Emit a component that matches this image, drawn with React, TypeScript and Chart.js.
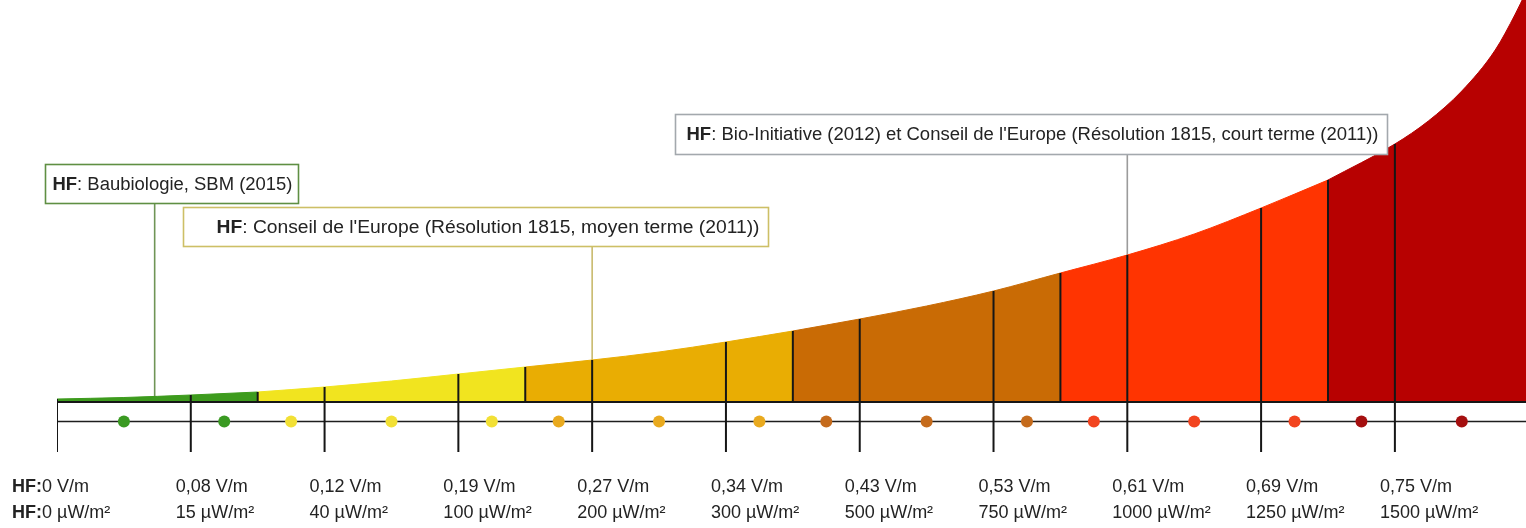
import React, { useEffect, useRef } from "react";
import { Chart, registerables } from "chart.js";

Chart.register(...registerables);

// ---- data ----
const curveX = [0, 0.5, 1, 1.5, 2, 2.5, 3, 3.5, 4, 4.5, 5, 5.5, 6, 6.5, 7, 7.5, 8, 8.5, 9, 9.5, 10, 10.25, 10.5, 10.75, 10.9, 10.98];
const curveLevel = [3, 4.5, 7, 10, 15, 21, 28, 35, 42, 50, 60, 71, 83, 96, 111, 129, 147, 168, 194, 222, 258, 281, 311, 352, 388, 410];

const bandStarts = [0, 1.5, 3.5, 5.5, 7.5, 9.5];
const bandEnds = [1.5, 3.5, 5.5, 7.5, 9.5, 10.98];

const tickPositions = [0, 1, 2, 3, 4, 5, 6, 7, 8, 9, 10];
const fieldLabels = ["0 V/m", "0,08 V/m", "0,12 V/m", "0,19 V/m", "0,27 V/m", "0,34 V/m", "0,43 V/m", "0,53 V/m", "0,61 V/m", "0,69 V/m", "0,75 V/m"];
const powerLabels = ["0 µW/m²", "15 µW/m²", "40 µW/m²", "100 µW/m²", "200 µW/m²", "300 µW/m²", "500 µW/m²", "750 µW/m²", "1000 µW/m²", "1250 µW/m²", "1500 µW/m²"];

const dividerPositions = [1.5, 3.5, 5.5, 7.5, 9.5];
const dotPositions = [0.5, 1.25, 1.75, 2.5, 3.25, 3.75, 4.5, 5.25, 5.75, 6.5, 7.25, 7.75, 8.5, 9.25, 9.75, 10.5];

const annotationX = [0.73, 4, 8];
const annotationTexts = [
  "Baubiologie, SBM (2015)",
  "Conseil de l'Europe (Résolution 1815, moyen terme (2011))",
  "Bio-Initiative (2012) et Conseil de l'Europe (Résolution 1815, court terme (2011))",
];

// ---- styles / layout ----
const bandColors = ["#3d9b1d", "#f1e41f", "#e9ad03", "#c96b05", "#ff3401", "#b70101"];
const dotColors = ["#3a9a22", "#f2e035", "#e9aa1f", "#c56b1c", "#f2441f", "#a50f0f"];
const AXIS_BOTTOM = -50;
const MID_LINE = -19.5;
const Y_MAX = 402;
const X_MAX = 10.98;

const annotationBoxes = [
  { dx: -110, top: 238, width: 253, height: 39, textDx: 7, textWidth: 240, border: "#5f8f43", line: "#6f9556" },
  { dx: -409, top: 195, width: 585, height: 39, textDx: 33, textWidth: 543, border: "#cdbf66", line: "#c9bb6e" },
  { dx: -452.5, top: 288, width: 712, height: 40, textDx: 11, textWidth: 692, border: "#a3a8ad", line: "#9b9b9b" },
];

const FONT_FAMILY = "'Liberation Sans', Arial, sans-serif";
const TEXT_COLOR = "#232323";

const levelAt = (x: number) => curveLevel[curveX.indexOf(x)];
const bandIndex = (x: number) => {
  for (let i = 0; i < bandStarts.length; i++) if (x >= bandStarts[i] && x < bandEnds[i]) return i;
  return bandStarts.length - 1;
};

function drawMixedFit(ctx: CanvasRenderingContext2D, bold: string, rest: string, x: number, y: number, size: number, targetWidth: number) {
  ctx.font = `bold ${size}px ${FONT_FAMILY}`;
  const wb = ctx.measureText(bold).width;
  ctx.font = `${size}px ${FONT_FAMILY}`;
  const wr = ctx.measureText(rest).width;
  const sx = targetWidth / (wb + wr);
  ctx.save();
  ctx.translate(x, y);
  ctx.scale(sx, 1);
  ctx.font = `bold ${size}px ${FONT_FAMILY}`;
  ctx.fillText(bold, 0, 0);
  ctx.font = `${size}px ${FONT_FAMILY}`;
  ctx.fillText(rest, wb, 0);
  ctx.restore();
}

const overlayPlugin = {
  id: "overlay",
  afterDatasetsDraw(chart: any) {
    const { ctx, chartArea } = chart;
    const xs = chart.scales.x;
    const ys = chart.scales.y;
    ctx.save();
    ctx.textBaseline = "middle";
    ctx.textAlign = "left";
    // annotation boxes
    annotationX.forEach((ax, i) => {
      const st = annotationBoxes[i];
      const lx = xs.getPixelForValue(ax);
      const left = Math.round(lx + st.dx) + 0.5;
      const top = Math.round(ys.getPixelForValue(st.top)) + 0.5;
      ctx.fillStyle = "#ffffff";
      ctx.fillRect(left, top, st.width, st.height);
      ctx.strokeStyle = st.border;
      ctx.lineWidth = 1.6;
      ctx.strokeRect(left, top, st.width, st.height);
      ctx.fillStyle = TEXT_COLOR;
      drawMixedFit(ctx, "HF", ": " + annotationTexts[i], left + st.textDx, top + st.height / 2 + 1, 18, st.textWidth);
    });
    // tick labels
    const row1 = chartArea.bottom + 35;
    const row2 = chartArea.bottom + 61;
    ctx.fillStyle = TEXT_COLOR;
    tickPositions.forEach((t, i) => {
      const x = xs.getPixelForValue(t) - 15;
      ctx.font = `18px ${FONT_FAMILY}`;
      if (i === 0) {
        ctx.font = `bold 18px ${FONT_FAMILY}`;
        const w = ctx.measureText("HF:").width;
        ctx.fillText("HF:", x - w, row1);
        ctx.fillText("HF:", x - w, row2);
        ctx.font = `18px ${FONT_FAMILY}`;
      }
      ctx.fillText(fieldLabels[i], x, row1);
      ctx.fillText(powerLabels[i], x, row2);
    });
    ctx.restore();
  },
};

export default function App() {
  const ref = useRef<HTMLCanvasElement>(null);

  useEffect(() => {
    document.body.style.margin = "0";
    const canvas = ref.current;
    if (!canvas) return;

    const areaDatasets = bandStarts.map((s, i) => ({
      type: "line" as const,
      data: curveX
        .map((x, k) => ({ x, y: curveLevel[k] }))
        .filter((p) => p.x >= s - 1e-9 && p.x <= bandEnds[i] + 1e-9),
      backgroundColor: bandColors[i],
      borderColor: bandColors[i],
      borderWidth: 1,
      fill: "origin",
      pointRadius: 0,
      cubicInterpolationMode: "monotone" as const,
      order: 5,
    }));

    const dividerData: any[] = [];
    const allDividers = [...tickPositions.map((x) => ({ x, from: AXIS_BOTTOM })), ...dividerPositions.map((x) => ({ x, from: 0 }))].sort(
      (a, b) => a.x - b.x
    );
    allDividers.forEach((d) => {
      dividerData.push({ x: d.x, y: d.from }, { x: d.x, y: levelAt(d.x) }, { x: d.x, y: null });
    });

    const annotationLines = annotationX.map((ax, i) => ({
      type: "line" as const,
      data: [
        { x: ax, y: annotationBoxes[i].top - annotationBoxes[i].height },
        { x: ax, y: 0 },
      ],
      borderColor: annotationBoxes[i].line,
      borderWidth: 1.6,
      pointRadius: 0,
      fill: false,
      order: 10,
    }));

    const chart = new Chart(canvas, {
      type: "line",
      data: {
        datasets: [
          {
            type: "line",
            data: dotPositions.map((x) => ({ x, y: MID_LINE })),
            showLine: false,
            pointRadius: 6,
            pointBorderWidth: 0,
            pointBackgroundColor: dotPositions.map((x) => dotColors[bandIndex(x)]),
            order: 0,
          },
          {
            type: "line",
            data: dividerData,
            borderColor: "#161616",
            borderWidth: 2,
            pointRadius: 0,
            spanGaps: false,
            fill: false,
            order: 1,
          },
          {
            type: "line",
            data: [
              { x: 0, y: 0 },
              { x: X_MAX, y: 0 },
            ],
            borderColor: "#161616",
            borderWidth: 2,
            pointRadius: 0,
            fill: false,
            order: 2,
          },
          {
            type: "line",
            data: [
              { x: 0, y: MID_LINE },
              { x: X_MAX, y: MID_LINE },
            ],
            borderColor: "#1e1e1e",
            borderWidth: 1.6,
            pointRadius: 0,
            fill: false,
            order: 3,
          },
          ...areaDatasets,
          ...annotationLines,
        ] as any,
      },
      options: {
        responsive: false,
        animation: false,
        devicePixelRatio: 1,
        layout: { autoPadding: false, padding: { left: 57, right: 0, top: 0, bottom: 76 } },
        scales: {
          x: { type: "linear", min: 0, max: X_MAX, display: false },
          y: { type: "linear", min: AXIS_BOTTOM, max: Y_MAX, display: false },
        },
        plugins: {
          legend: { display: false },
          tooltip: { enabled: false },
        },
        events: [],
      },
      plugins: [overlayPlugin],
    });

    return () => chart.destroy();
  }, []);

  return (
    <div style={{ width: 1526, height: 528, background: "#ffffff" }}>
      <canvas ref={ref} width={1526} height={528} style={{ display: "block", width: 1526, height: 528 }} />
    </div>
  );
}
